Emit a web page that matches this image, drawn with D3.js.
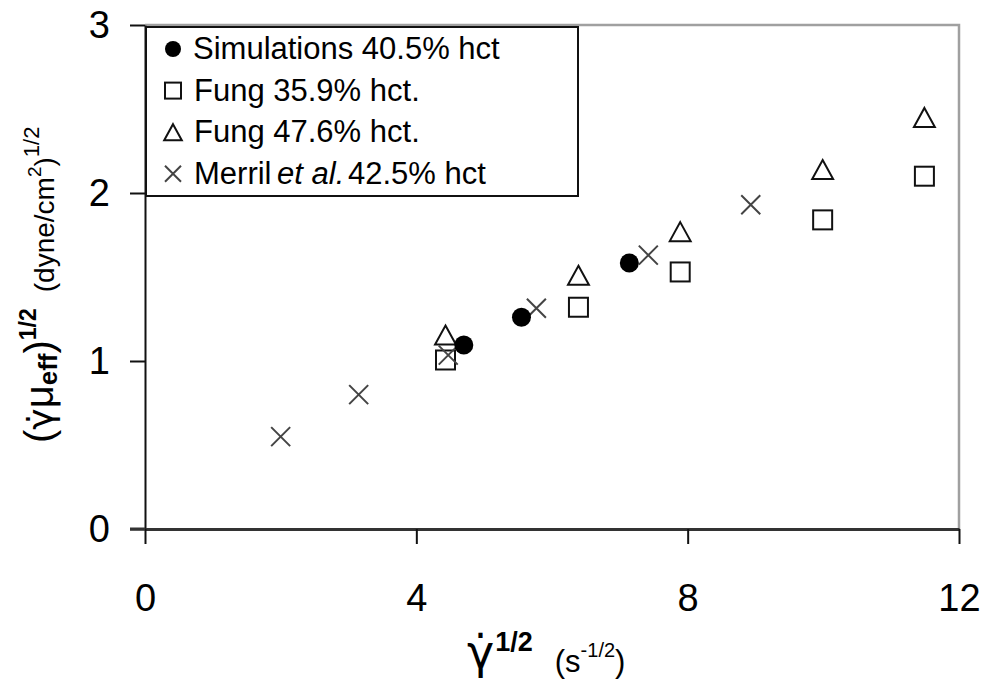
<!DOCTYPE html>
<html>
<head>
<meta charset="utf-8">
<script src="https://cdn.jsdelivr.net/npm/d3@7"></script>
<style>
  body { margin: 0; background: #fff; }
  svg { display: block; font-family: Arial, "Liberation Sans", sans-serif; }
</style>
</head>
<body>
<svg id="chart" width="987" height="685"></svg>
<script>
// Data series: sqrt(shear rate) vs sqrt(shear stress)
const simX = [4.70, 5.55, 7.14];
const simY = [1.095, 1.26, 1.583];
const fung359X = [4.43, 6.39, 7.89, 9.99, 11.49];
const fung359Y = [1.006, 1.32, 1.53, 1.84, 2.10];
const fung476X = [4.43, 6.39, 7.89, 9.99, 11.49];
const fung476Y = [1.155, 1.51, 1.77, 2.14, 2.45];
const merrilX = [2.00, 3.15, 4.47, 5.77, 7.42, 8.93];
const merrilY = [0.55, 0.80, 1.035, 1.314, 1.63, 1.93];

const xTicks = [0, 4, 8, 12];
const yTicks = [0, 1, 2, 3];

const svg = d3.select("#chart");
const x = d3.scaleLinear().domain([0, 12]).range([145, 959]);
const y = d3.scaleLinear().domain([0, 3]).range([529, 25]);

// plot-area frame (top and right edges)
svg.append("path")
  .attr("d", `M${x(0)},${y(3)}H${x(12)}V${y(0)}`)
  .attr("fill", "none").attr("stroke", "#a0a0a0").attr("stroke-width", 2.5);

// axes
const yAxis = svg.append("g").attr("transform", `translate(${x(0)},0)`)
  .call(d3.axisLeft(y).tickValues(yTicks).tickSize(15).tickSizeOuter(0).tickPadding(20).tickFormat(d3.format("d")));
const xAxis = svg.append("g").attr("transform", `translate(0,${y(0)})`)
  .call(d3.axisBottom(x).tickValues(xTicks).tickSize(15).tickSizeOuter(0).tickPadding(40).tickFormat(d3.format("d")));
[yAxis, xAxis].forEach(g => {
  g.select(".domain").attr("stroke", "#111").attr("stroke-width", 2);
  g.selectAll(".tick line").attr("stroke", "#111").attr("stroke-width", 2);
  g.selectAll(".tick text").attr("font-size", 38).attr("fill", "#000")
    .attr("font-family", "Arial, 'Liberation Sans', sans-serif");
});
xAxis.select(".domain").attr("stroke", "#333").attr("stroke-width", 3);
// extend x-axis line to meet the y-axis zero tick
xAxis.append("line").attr("x1", x(0) - 15).attr("x2", x(0)).attr("y1", 0).attr("y2", 0)
  .attr("stroke", "#333").attr("stroke-width", 3);

// marker drawers
const S = 19;
function square(g, cx, cy, s) {
  g.append("rect").attr("x", cx - s / 2).attr("y", cy - s / 2).attr("width", s).attr("height", s)
    .attr("fill", "none").attr("stroke", "#111").attr("stroke-width", 2);
}
function triangle(g, cx, cy, s) {
  const h = s;
  g.append("path")
    .attr("d", `M${cx},${cy - h / 2}L${cx + s * 0.55},${cy + h / 2}L${cx - s * 0.55},${cy + h / 2}Z`)
    .attr("fill", "none").attr("stroke", "#111").attr("stroke-width", 2);
}
function cross(g, cx, cy, s) {
  const r = s / 2;
  g.append("path")
    .attr("d", `M${cx - r},${cy - r}L${cx + r},${cy + r}M${cx - r},${cy + r}L${cx + r},${cy - r}`)
    .attr("stroke", "#444").attr("stroke-width", 2);
}
function dot(g, cx, cy, s) {
  g.append("circle").attr("cx", cx).attr("cy", cy).attr("r", s / 2).attr("fill", "#000");
}

const marks = svg.append("g");
fung359X.forEach((v, i) => square(marks, x(v), y(fung359Y[i]), S));
fung476X.forEach((v, i) => triangle(marks, x(v), y(fung476Y[i]), S));
merrilX.forEach((v, i) => cross(marks, x(v), y(merrilY[i]), S));
simX.forEach((v, i) => dot(marks, x(v), y(simY[i]), 19));

// legend
const lg = svg.append("g");
lg.append("rect").attr("x", 146).attr("y", 27).attr("width", 432).attr("height", 169)
  .attr("fill", "#fff").attr("stroke", "#111").attr("stroke-width", 2);
const legendRows = [
  { draw: dot, parts: [["Simulations 40.5% hct", 0]] },
  { draw: square, parts: [["Fung 35.9% hct.", 1]] },
  { draw: triangle, parts: [["Fung 47.6% hct.", 1]] },
  { draw: cross, parts: [["Merril ", 1], ["et al.", -3, true], [" 42.5% hct", -5]] }
];
legendRows.forEach((r, i) => {
  const base = 59 + i * 41.6;
  r.draw(lg, 173, base - 10, 16);
  const t = lg.append("text").attr("x", 193).attr("y", base).attr("font-size", 31).attr("fill", "#000");
  r.parts.forEach(([s, dx, it]) => {
    t.append("tspan").attr("dx", dx).attr("font-style", it ? "italic" : null).text(s);
  });
});

// gamma-dot (shear rate) symbol: gamma plus combining dot above
const GAMMA_DOT = "\u03B3\u0307";
const gammaFont = "'DejaVu Sans', sans-serif";

// x-axis title
const xt = svg.append("text").attr("x", 467).attr("y", 668).attr("fill", "#000");
xt.append("tspan").attr("font-size", 46).attr("font-family", gammaFont).text(GAMMA_DOT);
xt.append("tspan").attr("font-size", 27).attr("font-weight", "bold").attr("dx", 1).attr("dy", -17).text("1/2");
xt.append("tspan").attr("font-size", 31).attr("dx", 22).attr("dy", 21).text("(s");
xt.append("tspan").attr("font-size", 20).attr("dy", -15).text("-1/2");
xt.append("tspan").attr("font-size", 31).attr("dy", 15).text(")");

// y-axis title
const yt = svg.append("text").attr("transform", "translate(53,443) rotate(-90)").attr("fill", "#000");
yt.append("tspan").attr("font-size", 40).text("(");
yt.append("tspan").attr("font-size", 36).attr("font-family", gammaFont).text(GAMMA_DOT);
yt.append("tspan").attr("font-size", 40).text("\u03BC");
yt.append("tspan").attr("font-size", 26).attr("font-weight", "bold").attr("dy", 4).text("eff");
yt.append("tspan").attr("font-size", 40).attr("dy", -4).text(")");
yt.append("tspan").attr("font-size", 23).attr("font-weight", "bold").attr("dy", -17).text("1/2");
yt.append("tspan").attr("font-size", 28).attr("dx", 16).attr("dy", 18).text("(dyne/cm");
yt.append("tspan").attr("font-size", 19).attr("dy", -13).text("2");
yt.append("tspan").attr("font-size", 28).attr("dy", 13).text(")");
yt.append("tspan").attr("font-size", 22).attr("dy", -15).text("1/2");
</script>
</body>
</html>
